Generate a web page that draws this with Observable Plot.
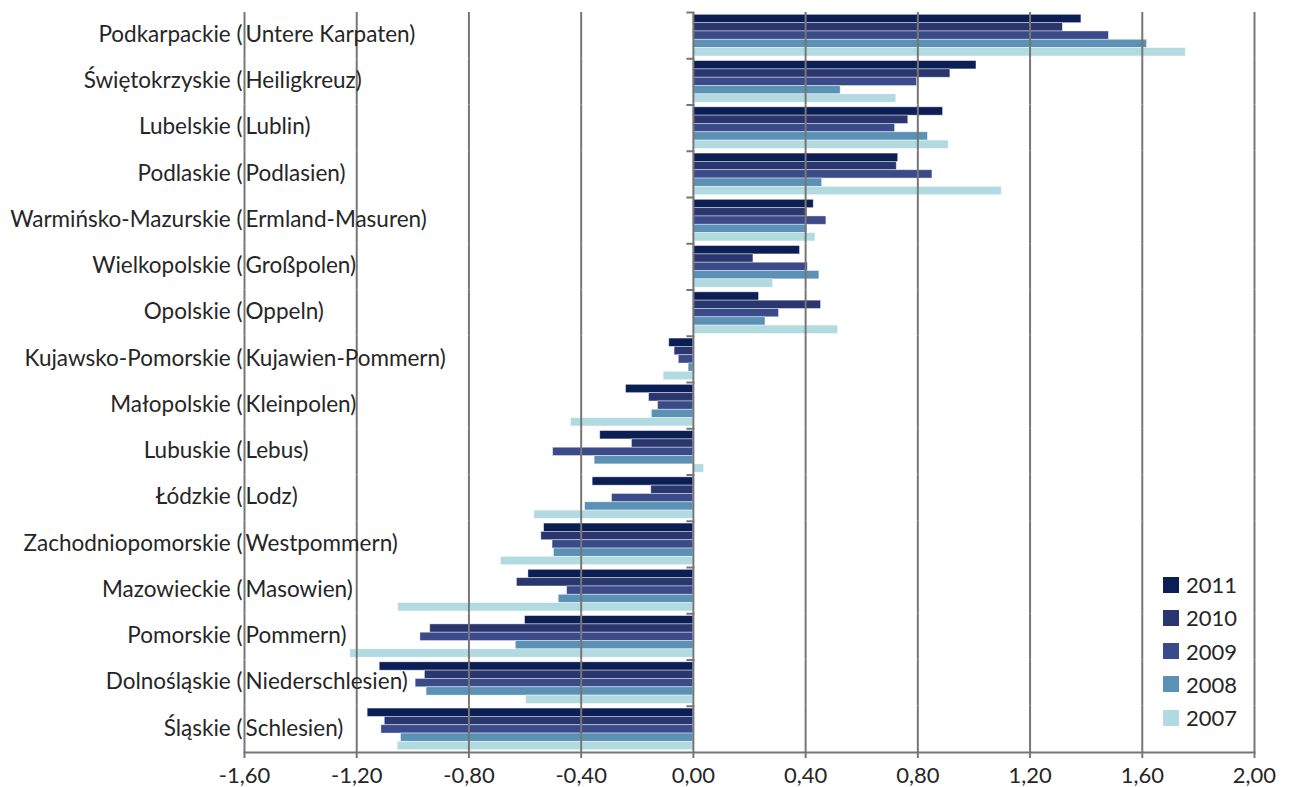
<!DOCTYPE html>
<html><head><meta charset="utf-8">
<script src="https://cdn.jsdelivr.net/npm/d3@7"></script>
<script src="https://cdn.jsdelivr.net/npm/@observablehq/plot@0.6"></script>
<style>
body{margin:0;background:#fff;}
#wrap{position:relative;width:1290px;height:787px;overflow:hidden;}
#legend{position:absolute;left:1163px;top:568px;}
.lg-swatch{height:33.25px;line-height:33.25px;margin:0 !important;padding:0 !important;display:flex;align-items:center;}
.lg-swatch svg{margin-right:7px !important;}
</style></head><body><div id="wrap"><div id="legend"></div></div>
<script>
// Regions (Polish name, German name)
const regionsPL = ["Podkarpackie","Świętokrzyskie","Lubelskie","Podlaskie","Warmińsko-Mazurskie","Wielkopolskie","Opolskie","Kujawsko-Pomorskie","Małopolskie","Lubuskie","Łódzkie","Zachodniopomorskie","Mazowieckie","Pomorskie","Dolnośląskie","Śląskie"];
const regionsDE = ["Untere Karpaten","Heiligkreuz","Lublin","Podlasien","Ermland-Masuren","Großpolen","Oppeln","Kujawien-Pommern","Kleinpolen","Lebus","Lodz","Westpommern","Masowien","Pommern","Niederschlesien","Schlesien"];
const years = ["2011","2010","2009","2008","2007"];
const v2011 = [1.383,1.009,0.890,0.730,0.429,0.380,0.234,-0.086,-0.240,-0.332,-0.359,-0.532,-0.588,-0.600,-1.118,-1.161];
const v2010 = [1.317,0.916,0.766,0.725,0.406,0.214,0.455,-0.067,-0.158,-0.219,-0.150,-0.542,-0.629,-0.938,-0.957,-1.100];
const v2009 = [1.481,0.797,0.719,0.852,0.474,0.408,0.305,-0.052,-0.126,-0.500,-0.290,-0.502,-0.450,-0.973,-0.990,-1.112];
const v2008 = [1.617,0.525,0.836,0.459,0.406,0.449,0.257,-0.017,-0.148,-0.352,-0.386,-0.497,-0.480,-0.633,-0.951,-1.042];
const v2007 = [1.755,0.723,0.910,1.099,0.435,0.284,0.516,-0.106,-0.436,0.038,-0.567,-0.686,-1.052,-1.223,-0.596,-1.054];
const xTicks = [-1.6,-1.2,-0.8,-0.4,0,0.4,0.8,1.2,1.6,2.0];
const colors = ["#0c1f55","#2a376e","#3b4b8a","#5c91b6","#b2dae1"];

const series = [v2011, v2010, v2009, v2008, v2007];
const rows = [];
regionsPL.forEach((r, i) => years.forEach((y, j) => rows.push({region: r, year: y, value: series[j][i]})));
const labels = regionsPL.map((r, i) => ({region: r, pl: r + " (", de: regionsDE[i] + ")"}));

const W = 1290, H = 787, ML = 244, MR = 36, MT = 12, MB = 35;
const xDomain = [xTicks[0], xTicks[xTicks.length - 1]];
const xs = Plot.scale({x: {domain: xDomain, range: [ML, W - MR]}});
const x0 = xs.apply(0);
const grid = "#767676";
const ink = "#262626";
const font = "Lato, sans-serif";
const fmt = d => d.toFixed(2).replace(".", ",");

const chart = Plot.plot({
  width: W, height: H, marginLeft: ML, marginRight: MR, marginTop: MT, marginBottom: MB,
  style: {fontFamily: font, fontSize: "22px", color: ink, background: "#fff"},
  x: {domain: xDomain, axis: null},
  y: {domain: years, paddingInner: 0, paddingOuter: 0.28, round: false, axis: null},
  fy: {domain: regionsPL, padding: 0, round: false, axis: null},
  color: {domain: years, range: colors},
  marks: [
    Plot.barX(rows, {fy: "region", y: "year", x: "value", fill: "year", stroke: "#fff", strokeOpacity: 0.5, strokeWidth: 0.8}),
    Plot.ruleX(xTicks, {stroke: grid, strokeWidth: 2}),
    Plot.frame({anchor: "top", stroke: grid, strokeWidth: 2, insetLeft: x0 - 6 - ML, insetRight: W - MR - x0}),
    Plot.frame({anchor: "bottom", facetAnchor: "bottom", stroke: grid, strokeWidth: 2}),
    Plot.axisX(xTicks, {tickSize: 6, tickPadding: 9, tickFormat: fmt, stroke: grid, strokeWidth: 2, fill: ink, fontSize: 22, label: null}),
    Plot.text(labels, {fy: "region", x: () => xDomain[0], text: "pl", textAnchor: "end", dx: -2, dy: -1, fill: ink, fontSize: 22.5}),
    Plot.text(labels, {fy: "region", x: () => xDomain[0], text: "de", textAnchor: "start", dx: 1, dy: -1, fill: ink, fontSize: 22.5})
  ]
});
document.getElementById("wrap").prepend(chart);

const legend = Plot.legend({
  color: {domain: years, range: colors},
  legend: "swatches", columns: 1, swatchSize: 16, className: "lg",
  style: {fontFamily: font, fontSize: "22px", color: ink}
});
document.getElementById("legend").append(legend);
</script>
</body></html>
